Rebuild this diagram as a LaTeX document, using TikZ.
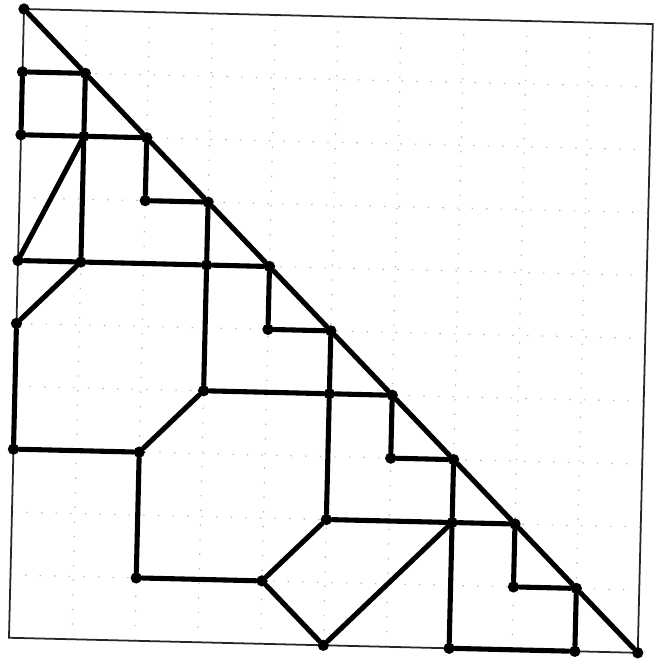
\documentclass[tikz,border=0pt]{standalone}
\usepackage{tikz}
\usetikzlibrary{positioning}
\tikzset{
    dot/.style    = {circle, fill=black, draw=none, inner sep=0pt, minimum size=0.18cm},
    link/.style   = {line width=2.3pt, draw=black, line cap=round},
    frame/.style  = {line width=0.8pt, draw=black!85},
    gridln/.style = {line width=0.5pt, draw=black!30, dash pattern=on 0.6pt off 6pt}
}

\begin{document}
\begin{tikzpicture}
    \useasboundingbox (-0.3816,-10.350) rectangle (10.207,0.143);
    \begin{scope}[rotate=-1.37]
        % Faint grid and frame
        \draw[gridln] (0,0) grid (10,-10);
        \draw[frame] (0,0) rectangle (10,-10);

        % Points on the diagonal
        \node[dot] (p0-0)   at (0,0)    {};
        \node[dot] (p1-1)   at (1,-1)   {};
        \node[dot] (p2-2)   at (2,-2)   {};
        \node[dot] (p3-3)   at (3,-3)   {};
        \node[dot] (p4-4)   at (4,-4)   {};
        \node[dot] (p5-5)   at (5,-5)   {};
        \node[dot] (p6-6)   at (6,-6)   {};
        \node[dot] (p7-7)   at (7,-7)   {};
        \node[dot] (p8-8)   at (8,-8)   {};
        \node[dot] (p9-9)   at (9,-9)   {};
        \node[dot] (p10-10) at (10,-10) {};

        % Points below the diagonal
        \node[dot] (p0-1)  at (0,-1)  {};
        \node[dot] (p0-2)  at (0,-2)  {};
        \node[dot] (p1-2)  at (1,-2)  {};
        \node[dot] (p2-3)  at (2,-3)  {};
        \node[dot] (p0-4)  at (0,-4)  {};
        \node[dot] (p1-4)  at (1,-4)  {};
        \node[dot] (p3-4)  at (3,-4)  {};
        \node[dot] (p0-5)  at (0,-5)  {};
        \node[dot] (p4-5)  at (4,-5)  {};
        \node[dot] (p3-6)  at (3,-6)  {};
        \node[dot] (p5-6)  at (5,-6)  {};
        \node[dot] (p0-7)  at (0,-7)  {};
        \node[dot] (p2-7)  at (2,-7)  {};
        \node[dot] (p6-7)  at (6,-7)  {};
        \node[dot] (p5-8)  at (5,-8)  {};
        \node[dot] (p7-8)  at (7,-8)  {};
        \node[dot] (p2-9)  at (2,-9)  {};
        \node[dot] (p4-9)  at (4,-9)  {};
        \node[dot] (p8-9)  at (8,-9)  {};
        \node[dot] (p5-10) at (5,-10) {};
        \node[dot] (p7-10) at (7,-10) {};
        \node[dot] (p9-10) at (9,-10) {};

        % Diagonal
        \draw[link] (p0-0) -- (p1-1) -- (p2-2) -- (p3-3) -- (p4-4) -- (p5-5)
                    -- (p6-6) -- (p7-7) -- (p8-8) -- (p9-9) -- (p10-10);

        % Thick edges
        \draw[link] (p0-1) -- (p1-1);
        \draw[link] (p0-1) -- (p0-2);
        \draw[link] (p1-1) -- (p1-2) -- (p1-4);
        \draw[link] (p0-2) -- (p1-2) -- (p2-2);
        \draw[link] (p2-2) -- (p2-3) -- (p3-3);
        \draw[link] (p1-2) -- (p0-4);
        \draw[link] (p0-4) -- (p1-4) -- (p3-4) -- (p4-4);
        \draw[link] (p3-3) -- (p3-4) -- (p3-6);
        \draw[link] (p1-4) -- (p0-5);
        \draw[link] (p4-4) -- (p4-5) -- (p5-5);
        \draw[link] (p0-5) -- (p0-7);
        \draw[link] (p5-5) -- (p5-6) -- (p5-8);
        \draw[link] (p3-6) -- (p5-6) -- (p6-6);
        \draw[link] (p6-6) -- (p6-7) -- (p7-7);
        \draw[link] (p0-7) -- (p2-7);
        \draw[link] (p3-6) -- (p2-7);
        \draw[link] (p2-7) -- (p2-9) -- (p4-9);
        \draw[link] (p5-8) -- (p4-9) -- (p5-10);
        \draw[link] (p5-8) -- (p7-8) -- (p8-8);
        \draw[link] (p7-7) -- (p7-8) -- (p7-10);
        \draw[link] (p7-8) -- (p5-10);
        \draw[link] (p8-8) -- (p8-9) -- (p9-9);
        \draw[link] (p7-10) -- (p9-10);
        \draw[link] (p9-9) -- (p9-10);
    \end{scope}
\end{tikzpicture}
\end{document}
